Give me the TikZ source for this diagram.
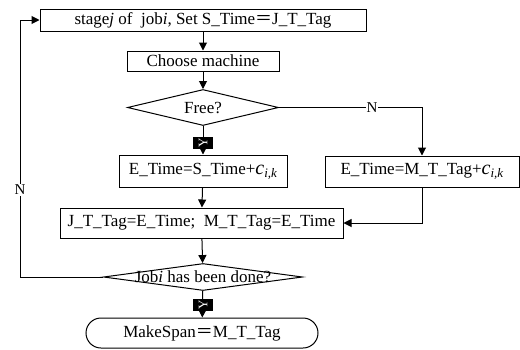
\documentclass[tikz,border=0pt]{standalone}
\usepackage{fontspec}
\setmainfont{Liberation Serif}
\newfontfamily\cjk{Noto Sans CJK SC}
\usetikzlibrary{arrows.meta,shapes.geometric,shapes.misc}
\newcommand{\fw}{{\cjk ＝}}
\newcommand{\cik}{{\fontsize{20}{20}\selectfont\textit{c}}\raisebox{-3pt}{\fontsize{13}{13}\selectfont\textit{i,k}}}
\tikzset{
  box/.style={draw,line width=1pt,inner sep=0pt,font=\fontsize{17}{20}\selectfont},
  dia/.style={draw,line width=1pt,diamond,inner sep=0pt},
  term/.style={draw,line width=1pt,rounded rectangle,inner sep=0pt,font=\fontsize{17}{20}\selectfont},
  txt/.style={inner sep=0pt,font=\fontsize{17}{20}\selectfont},
  arr/.style={line width=1pt,-{Triangle[length=8pt,width=8pt]}},
  ylab/.style={fill=black,text=white,inner sep=0pt,minimum width=20pt,minimum height=12pt,font=\fontsize{13}{13}\selectfont},
  nlab/.style={fill=white,inner sep=1pt,font=\fontsize{15}{15}\selectfont}
}
\begin{document}
\begin{tikzpicture}[x=1pt,y=-1pt]
\useasboundingbox (0,0) rectangle (520,349);
\node[box,minimum width=326pt,minimum height=22pt] (top) at (203,20) {stage\textit{j} of~ job\textit{i}, Set S\_Time\fw J\_T\_Tag};
\node[box,minimum width=152pt,minimum height=20pt] (choose) at (203,61) {Choose machine};
\node[dia,minimum width=151pt,minimum height=36pt] (free) at (203,107.5) {};
\node[txt] at (free) {Free?};
\node[box,minimum width=168pt,minimum height=32pt] (eS) at (203,171) {E\_Time=S\_Time+\cik};
\node[box,minimum width=194pt,minimum height=31pt] (eM) at (422,171.5) {E\_Time=M\_T\_Tag+\cik};
\node[box,minimum width=283pt,minimum height=30pt] (jb) at (201.5,223) {J\_T\_Tag=E\_Time;~ M\_T\_Tag=E\_Time};
\node[dia,minimum width=199pt,minimum height=27pt] (d2) at (203,277) {};
\node[txt] at (d2) {Job\textit{i} has been done?};
\node[term,minimum width=232pt,minimum height=30pt] (ms) at (202,333) {MakeSpan\fw M\_T\_Tag};
\coordinate (lp) at (20,277);
\draw[arr] (top) -- (choose);
\draw[arr] (choose) -- (free);
\draw[arr] (free) -- (eS);
\node[ylab] (y1) at (203,143) {\rotatebox{90}{Y}};
\draw[arr] (free.east) -| (eM.north);
\node[nlab] (n1) at (372,108) {N};
\draw[arr] (eS) -- (jb);
\draw[arr] (eM.south) |- (jb.east);
\draw[arr] (jb) -- (d2);
\draw[arr] (d2.west) -- (lp) |- (top.west);
\node[nlab] (n2) at (20,190) {N};
\draw[arr] (d2) -- (ms);
\node[ylab] (y2) at (203,305) {\rotatebox{90}{Y}};
\end{tikzpicture}
\end{document}
